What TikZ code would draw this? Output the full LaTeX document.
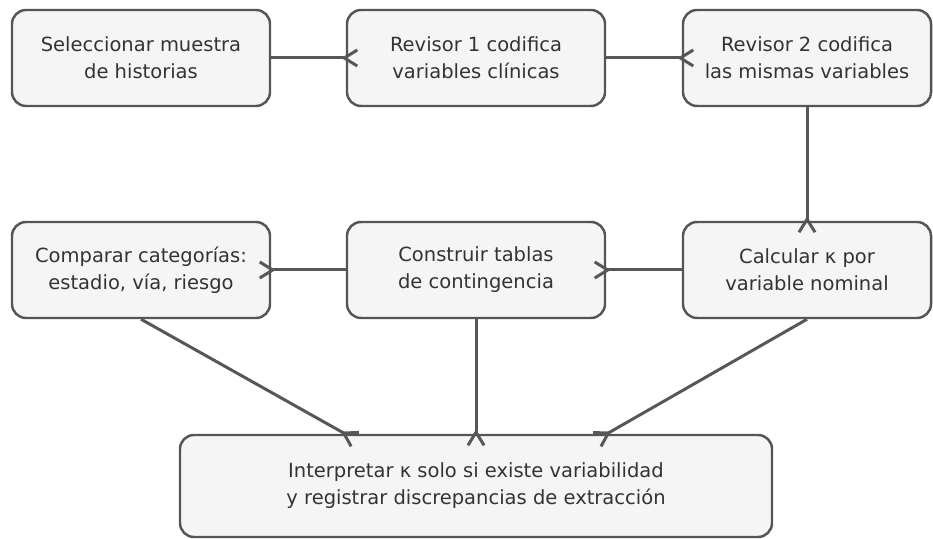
\documentclass[tikz,border=0pt]{standalone}
\usepackage{fontspec}
\setmainfont{DejaVu Sans}
\usepackage{xcolor}
\usetikzlibrary{arrows.meta}
\definecolor{boxFill}{HTML}{F5F5F5}
\definecolor{boxLine}{HTML}{555555}
\definecolor{arrowLine}{HTML}{575757}
\definecolor{textGray}{HTML}{333333}

\begin{document}
\begin{tikzpicture}[line/.style={-{Straight Barb[reversed,length=2.6mm,width=3.2mm]},shorten >=-2.6mm,draw=arrowLine, line width=1.7pt}, box/.style={rectangle, rounded corners=2.8mm, fill=boxFill, draw=boxLine, line width=1.4pt, text=textGray, align=center, inner sep=0, minimum width=5.16cm, minimum height=1.92cm}, node font=\fontsize{11.1}{15.4}\selectfont]

  \useasboundingbox (0,0) rectangle (18.66,10.78);

  \node[box]                        (stepSample)   at (2.82,9.62)  {Seleccionar muestra\\de historias};
  \node[box]                        (stepCoder1)   at (9.52,9.62)  {Revisor 1 codifica\\variables clínicas};
  \node[box, minimum width=4.96cm]  (stepCoder2)   at (16.14,9.62) {Revisor 2 codifica\\las mismas variables};
  \node[box]                        (stepCompare)  at (2.82,5.38)  {Comparar categorías:\\estadio, vía, riesgo};
  \node[box]                        (stepTables)   at (9.52,5.38)  {Construir tablas\\de contingencia};
  \node[box, minimum width=4.96cm]  (stepKappa)    at (16.14,5.38) {Calcular κ por\\variable nominal};
  \node[box, minimum width=11.84cm, minimum height=2.04cm] (stepInterpret) at (9.52,1.06) {Interpretar κ solo si existe variabilidad\\y registrar discrepancias de extracción};

  \coordinate (entryLeft)  at ([xshift=-2.62cm]stepInterpret.north);
  \coordinate (entryRight) at ([xshift=2.62cm]stepInterpret.north);

  \draw [line] (stepSample)  -- (stepCoder1);
  \draw [line] (stepCoder1)  -- (stepCoder2);
  \draw [line] (stepCoder2)  -- (stepKappa);
  \draw [line] (stepKappa)   -- (stepTables);
  \draw [line] (stepTables)  -- (stepCompare);

  \draw [line] (stepCompare.south) -- (entryLeft);
  \draw [line] (stepTables)        -- (stepInterpret);
  \draw [line] (stepKappa.south)   -- (entryRight);
\end{tikzpicture}
\end{document}
